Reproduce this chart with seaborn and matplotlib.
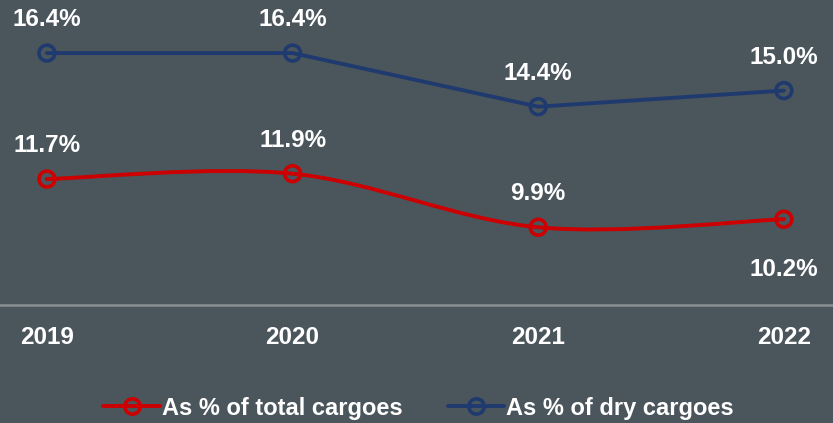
import numpy as np
import pandas as pd
import matplotlib
matplotlib.use("Agg")
import matplotlib.pyplot as plt
import seaborn as sns
from matplotlib.path import Path
from matplotlib.patches import PathPatch
from matplotlib.lines import Line2D

years = [2019, 2020, 2021, 2022]
total_pct = [11.7, 11.9, 9.9, 10.2]
dry_pct = [16.4, 16.4, 14.4, 15.0]
series_names = ["As % of total cargoes", "As % of dry cargoes"]
total_labels = ["11.7%", "11.9%", "9.9%", "10.2%"]
dry_labels = ["16.4%", "16.4%", "14.4%", "15.0%"]

BG = "#4b555c"
RED = "#cc0000"
BLUE = "#1f3a6e"
LW = 2.8

sns.set_theme(style="white")
plt.rcParams["font.family"] = ["Liberation Sans", "DejaVu Sans"]

fig = plt.figure(figsize=(8.33, 4.23), dpi=100, facecolor=BG)
ax = fig.add_axes([0, 1 - 305 / 423, 1, 305 / 423])
ax.set_facecolor(BG)

def smooth_path(xs, ys):
    n = len(xs)
    P = list(zip(xs, ys))
    verts = [P[0]]
    codes = [Path.MOVETO]
    for i in range(n - 1):
        p0 = P[i - 1] if i > 0 else P[i]
        p1 = P[i]
        p2 = P[i + 1]
        p3 = P[i + 2] if i + 2 < n else P[i + 1]
        c1 = (p1[0] + (p2[0] - p0[0]) / 6, p1[1] + (p2[1] - p0[1]) / 6)
        c2 = (p2[0] - (p3[0] - p1[0]) / 6, p2[1] - (p3[1] - p1[1]) / 6)
        verts += [c1, c2, p2]
        codes += [Path.CURVE4] * 3
    return Path(verts, codes)

# red: smoothed line
ax.add_patch(PathPatch(smooth_path(years, total_pct), facecolor="none",
                       edgecolor=RED, lw=LW, capstyle="round", zorder=2))

df = pd.DataFrame({
    "year": years * 2,
    "value": total_pct + dry_pct,
    "series": [series_names[0]] * 4 + [series_names[1]] * 4,
})
# blue: straight line
sns.lineplot(data=df[df["series"] == series_names[1]], x="year", y="value",
             ax=ax, color=BLUE, lw=LW, legend=False, zorder=2)

for name, col in zip(series_names, [RED, BLUE]):
    sub = df[df["series"] == name]
    sns.scatterplot(data=sub, x="year", y="value", ax=ax, marker="o", s=130,
                    facecolor="none", edgecolor=col, linewidth=2.6, zorder=3,
                    legend=False)

ax.set_xlim(2018.809, 2022.2)
ax.set_ylim(7.0, 18.38)

lbl_kw = dict(color="white", fontsize=17.5, fontweight="bold", ha="center")
for x, y, t in zip(years, dry_pct, dry_labels):
    ax.annotate(t, (x, y), xytext=(0, 24), textcoords="offset points",
                va="center", **lbl_kw)
for i, (x, y, t) in enumerate(zip(years, total_pct, total_labels)):
    off = -36 if i == 3 else 24
    ax.annotate(t, (x, y), xytext=(0, off), textcoords="offset points",
                va="center", **lbl_kw)

ax.set_xticks(years)
ax.set_xticklabels([str(y) for y in years], color="white", fontsize=17.5,
                   fontweight="bold")
ax.tick_params(axis="x", length=0, pad=15)
ax.set_yticks([])
ax.set_xlabel("")
ax.set_ylabel("")
for s in ["top", "left", "right"]:
    ax.spines[s].set_visible(False)
ax.spines["bottom"].set_color("#8a8f93")
ax.spines["bottom"].set_linewidth(1.8)

handles = [Line2D([], [], color=c, lw=LW, marker="o", markersize=11,
                  markerfacecolor="none", markeredgewidth=2.6)
           for c in [RED, BLUE]]
leg = fig.legend(handles, series_names, loc="center",
                 bbox_to_anchor=(0.5025, 1 - 408 / 423),
                 bbox_transform=fig.transFigure,
                 ncol=2, frameon=False, handlelength=2.4, handletextpad=0.08,
                 columnspacing=1.9,
                 prop={"family": ["Liberation Sans"], "weight": "bold", "size": 17})
for t in leg.get_texts():
    t.set_color("white")

fig.savefig("out.png", dpi=100, facecolor=BG)
